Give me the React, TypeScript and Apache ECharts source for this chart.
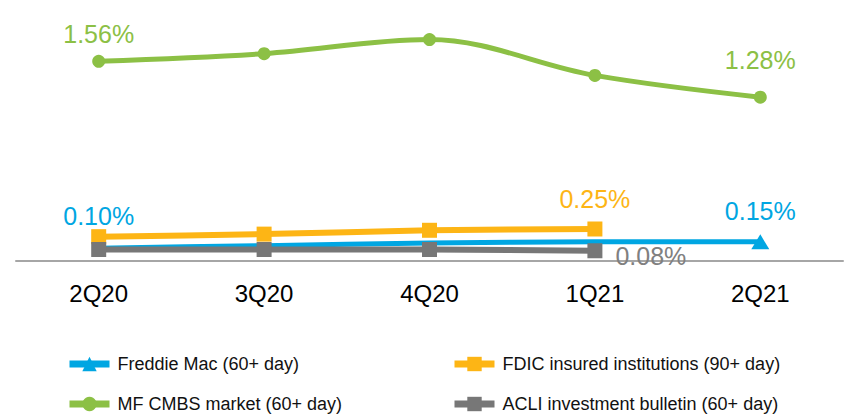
import React, { useEffect, useRef } from "react";
import * as echarts from "echarts";

const categories = ["2Q20", "3Q20", "4Q20", "1Q21", "2Q21"];
const freddieMac = [0.1, 0.12, 0.14, 0.15, 0.15];
const fdic = [0.19, 0.21, 0.24, 0.25, null];
const mfCmbs = [1.56, 1.62, 1.73, 1.45, 1.28];
const acli = [0.09, 0.09, 0.09, 0.08, null];

const seriesNames = [
  "Freddie Mac (60+ day)",
  "FDIC insured institutions (90+ day)",
  "MF CMBS market (60+ day)",
  "ACLI investment bulletin (60+ day)",
];

const FONT = "'Liberation Sans', Arial, sans-serif";
const BLUE = "#00A6E2";
const ORANGE = "#FDB515";
const GREEN = "#8CC045";
const GREY = "#777777";

const fmt = (p: any) => Number(p.value).toFixed(2) + "%";

// labelled points: index -> label placement
const freddieLabels: Record<number, any> = {
  0: { position: "top", distance: 20 },
  4: { position: "top", distance: 11 },
};
const fdicLabels: Record<number, any> = { 3: { position: "top", distance: 10 } };
const mfLabels: Record<number, any> = {
  0: { position: "top", distance: 8 },
  4: { position: "top", distance: 18 },
};
const acliLabels: Record<number, any> = {
  3: { position: "right", distance: 13, offset: [0, 5] },
};

function buildData(
  values: (number | null)[],
  labels: Record<number, any>,
  color: string,
  symbolShown?: number[]
) {
  return values.map((v, i) => {
    const item: any = { value: v };
    if (symbolShown && symbolShown.indexOf(i) < 0) item.symbolSize = 0;
    if (labels[i]) {
      item.label = {
        show: true,
        color,
        fontSize: 25,
        fontFamily: FONT,
        formatter: fmt,
        ...labels[i],
      };
    }
    return item;
  });
}

export default function App() {
  const ref = useRef<HTMLDivElement>(null);
  useEffect(() => {
    if (!ref.current) return;
    const chart = echarts.init(ref.current, null, { renderer: "svg" });
    const legendBase = {
      orient: "horizontal",
      itemWidth: 40,
      itemHeight: 18,
      lineStyle: { width: 7 },
      textStyle: {
        fontSize: 18,
        fontFamily: FONT,
        color: "#111",
        padding: [0, 0, 0, 3],
      },
      itemGap: 10,
      selectedMode: false,
    };
    chart.setOption({
      animation: false,
      backgroundColor: "#ffffff",
      textStyle: { fontFamily: FONT },
      grid: { left: 16, right: 5, top: 5, bottom: 155 },
      legend: [
        { ...legendBase, left: 61, top: 350, data: [seriesNames[0]] },
        { ...legendBase, left: 446, top: 350, data: [seriesNames[1]] },
        { ...legendBase, left: 61, top: 390, data: [seriesNames[2]] },
        { ...legendBase, left: 446, top: 390, data: [seriesNames[3]] },
      ],
      xAxis: {
        type: "category",
        data: categories,
        boundaryGap: true,
        axisLine: { show: true, lineStyle: { color: "#A6A6A6", width: 2 } },
        axisTick: { show: false },
        axisLabel: { color: "#000", fontSize: 24, fontFamily: FONT, margin: 20 },
      },
      yAxis: {
        type: "value",
        min: 0,
        max: 2,
        show: false,
        splitLine: { show: false },
      },
      series: [
        {
          name: seriesNames[0],
          type: "line",
          smooth: 0.2,
          symbol: "triangle",
          symbolSize: [18, 15],
          itemStyle: { color: BLUE },
          lineStyle: { color: BLUE, width: 5 },
          data: buildData(freddieMac, freddieLabels, BLUE, [4]),
        },
        {
          name: seriesNames[1],
          type: "line",
          smooth: 0.2,
          symbol: "rect",
          symbolSize: 15,
          itemStyle: { color: ORANGE },
          lineStyle: { color: ORANGE, width: 6 },
          data: buildData(fdic, fdicLabels, ORANGE),
        },
        {
          name: seriesNames[3],
          type: "line",
          smooth: 0.2,
          symbol: "rect",
          symbolSize: 15,
          itemStyle: { color: GREY },
          lineStyle: { color: GREY, width: 6 },
          data: buildData(acli, acliLabels, "#808080"),
        },
        {
          name: seriesNames[2],
          type: "line",
          smooth: 0.35,
          symbol: "circle",
          symbolSize: 13,
          itemStyle: { color: GREEN },
          lineStyle: { color: GREEN, width: 5 },
          data: buildData(mfCmbs, mfLabels, GREEN),
        },
      ],
    });
    return () => chart.dispose();
  }, []);
  return (
    <div
      ref={ref}
      style={{ position: "fixed", left: 0, top: 0, width: 848, height: 416 }}
    />
  );
}
